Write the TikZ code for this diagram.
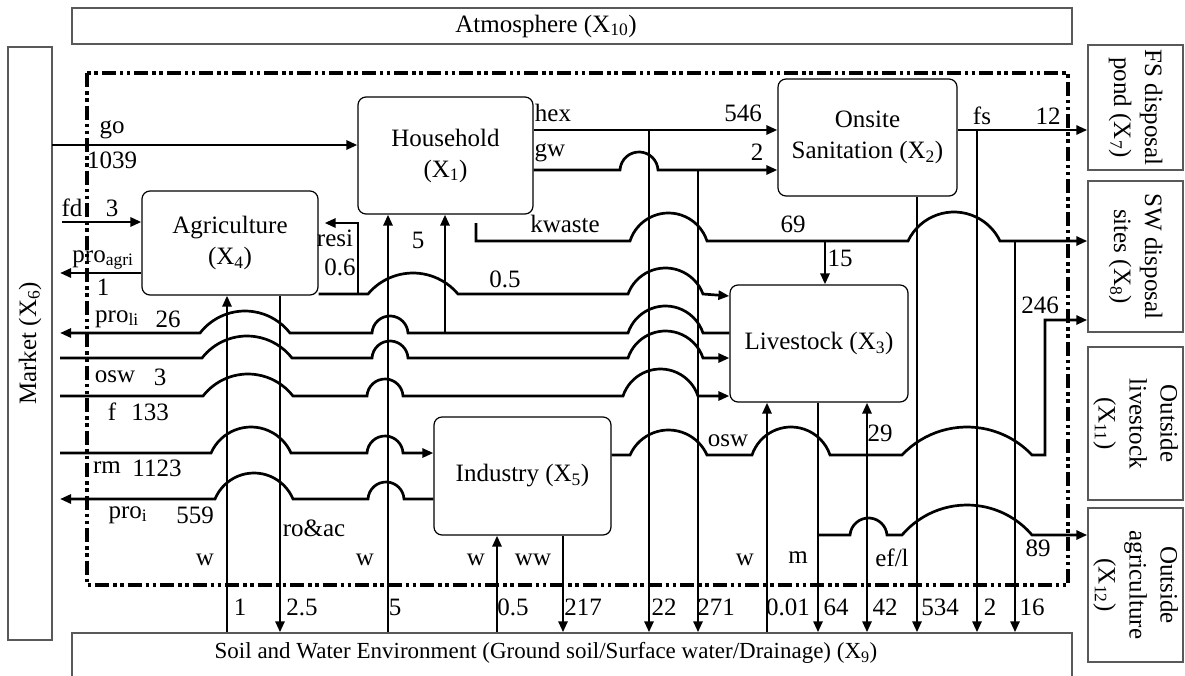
\documentclass[tikz,border=0pt]{standalone}
\usepackage{fontspec}
\setmainfont{Liberation Serif}
\usetikzlibrary{arrows.meta, positioning}

% jump over crossing lines: half chord #1, height #2 (drawn left to right)
\newcommand{\hopover}[2]{arc[start angle={90+asin(2*(#1)*(#2)/((#1)*(#1)+(#2)*(#2)))},
  end angle={90-asin(2*(#1)*(#2)/((#1)*(#1)+(#2)*(#2)))},
  radius={((#1)*(#1)+(#2)*(#2))/(2*(#2))*1pt}]}

\begin{document}
\begin{tikzpicture}[x=1pt, y=-1pt,
  every node/.style={font=\fontsize{25}{31}\selectfont},
  box/.style={rectangle, draw, rounded corners=8pt, line width=1.2pt, align=center},
  envbox/.style={rectangle, draw=black!65, line width=1.4pt, align=center, inner sep=1pt},
  flow/.style={line width=2.7pt},
  arrow/.style={flow, -{Triangle[length=11pt, width=9pt]}},
  backarrow/.style={flow, {Triangle[length=11pt, width=9pt]}-},
  system/.style={line width=3.2pt, dash pattern=on 14pt off 4pt on 3.5pt off 3.5pt on 3.5pt off 4pt},
  val/.style={inner sep=1pt}
]
\useasboundingbox (0,0) rectangle (1185,675);

% surroundings
\node[envbox, minimum width=1000pt, minimum height=36pt,
  label={[xshift=-26pt]center:Atmosphere (X\textsubscript{10})}] (atm) at (572,26) {};
\node[envbox, rotate=90, minimum width=593pt, minimum height=44pt] (market) at (30,343.5) {Market (X\textsubscript{6})};
\node[envbox, minimum width=1000pt, minimum height=46pt,
  label={[xshift=-26pt, yshift=3pt, font=\fontsize{23}{28}\selectfont]center:Soil and Water Environment (Ground soil/Surface water/Drainage) (X\textsubscript{9})}] (soil) at (572,656) {};
\node[envbox, rotate=-90, minimum width=125pt, minimum height=95pt] (fsp) at (1135.5,107.5) {FS disposal\\pond (X\textsubscript{7})};
\node[envbox, rotate=-90, minimum width=151pt, minimum height=95pt] (sw) at (1135.5,256.5) {SW disposal\\sites (X\textsubscript{8})};
\node[envbox, rotate=-90, minimum width=153pt, minimum height=95pt] (ol) at (1135.5,423.5) {Outside\\livestock\\(X\textsubscript{11})};
\node[envbox, rotate=-90, minimum width=154pt, minimum height=95pt] (oa) at (1135.5,585) {Outside\\agriculture\\(X\textsubscript{12})};

% system boundary
\draw[system] (87,73) rectangle (1068,585);

% sectors
\node[box, minimum width=175pt, minimum height=117pt] (hh)   at (445.5,155.5) {Household\\(X\textsubscript{1})};
\node[box, minimum width=179pt, minimum height=117pt] (ons)  at (867.5,137.5) {Onsite\\Sanitation (X\textsubscript{2})};
\node[box, minimum width=176pt, minimum height=104pt] (agri) at (230,243)     {Agriculture\\(X\textsubscript{4})};
\node[box, minimum width=178pt, minimum height=117pt] (live) at (819,343.5)   {Livestock (X\textsubscript{3})};
\node[box, minimum width=177pt, minimum height=118pt] (ind)  at (522.5,476)   {Industry (X\textsubscript{5})};

% market rows
\draw[arrow] (52,145) -- (hh.west |- 0,145);
\draw[arrow] (62,222) -- (agri.west |- 0,222);
\draw[backarrow] (60,273) -- (agri.west |- 0,273);
\draw[backarrow] (60,333) -- (200,333) \hopover{45}{22} -- (372,333) \hopover{18}{17} -- (628,333) \hopover{37.5}{27} -- (live.west |- 0,333);
\draw[arrow] (60,358) -- (202,358) \hopover{45}{22} -- (372,358) \hopover{18}{17} -- (628,358) \hopover{37.5}{27} -- (live.west |- 0,358);
\draw[arrow] (60,396) -- (203,396) \hopover{45}{22} -- (367,396) \hopover{18}{17} -- (623,396) \hopover{37.5}{27} -- (live.west |- 0,396);
\draw[arrow] (60,453) -- (211,453) \hopover{40}{26} -- (367,453) \hopover{18}{17} -- (ind.west |- 0,453);
\draw[backarrow] (60,499) -- (215,499) \hopover{39}{26} -- (368,499) \hopover{18}{17} -- (ind.west |- 0,499);
\draw[arrow] (445,333) -- (445,0 |- hh.south);

% agriculture outputs
\draw[arrow] (agri.east |- 0,294) -- (368,294) \hopover{45}{21} -- (628,294) \hopover{37.5}{26} -- (live.west |- 0,296);
\draw[arrow, shorten >=6pt] (358,294) -- (358,223) -- (agri.east |- 0,223);

% household outputs
\draw[arrow] (hh.east |- 0,130) -- (ons.west |- 0,130);
\draw[arrow] (hh.east |- 0,170) -- (620,170) \hopover{19}{18} -- (ons.west |- 0,170);
\draw[arrow] (476,223) -- (476,241) -- (630,241) \hopover{38.5}{28} -- (908,241) \hopover{46}{29} -- (sw.south |- 0,241);
\draw[arrow] (825,241) -- (825,0 |- live.north);
\draw[arrow] (ons.east |- 0,130) -- (fsp.south |- 0,130);

% industry and livestock outputs
\draw[arrow] (ind.east |- 0,455) -- (630,455) \hopover{38.5}{25} -- (752,455) \hopover{39}{28} -- (902,455) \hopover{65}{28} -- (1045,455) -- (1045,320) -- (sw.south |- 0,320);
\draw[arrow] (818,535) -- (850,535) \hopover{18.5}{17} -- (902,535) \hopover{65}{30} -- (oa.south |- 0,535);

% exchange with soil and water
\draw[arrow] (227,0 |- soil.north) -- (227,0 |- agri.south);
\draw[arrow] (280,0 |- agri.south) -- (280,0 |- soil.north);
\draw[arrow] (388,0 |- soil.north) -- (388,0 |- hh.south);
\draw[arrow] (497,0 |- soil.north) -- (497,0 |- ind.south);
\draw[arrow] (563,0 |- ind.south) -- (563,0 |- soil.north);
\draw[arrow] (649,130) -- (649,0 |- soil.north);
\draw[arrow] (698,170) -- (698,0 |- soil.north);
\draw[arrow] (767,0 |- soil.north) -- (767,0 |- live.south);
\draw[arrow] (818,0 |- live.south) -- (818,0 |- soil.north);
\draw[arrow] (867,455) -- (867,0 |- live.south);
\draw[arrow] (867,455) -- (867,0 |- soil.north);
\draw[arrow] (917,0 |- ons.south) -- (917,0 |- soil.north);
\draw[arrow] (977,130) -- (977,0 |- soil.north);
\draw[arrow] (1015,241) -- (1015,0 |- soil.north);

% flow names and values
\node[val] (l-go)    at (112,130) {go};
\node[val] (v-go)    at (112,160) {1039};
\node[val] (l-fd)    at (72,208)  {fd};
\node[val] (v-fd)    at (112,208) {3};
\node[val] (l-pagri) at (103,260) {pro\textsubscript{agri}};
\node[val] (v-pagri) at (103,287) {1};
\node[val] (l-pli)   at (117,319) {pro\textsubscript{li}};
\node[val] (v-pli)   at (168,319) {26};
\node[val] (l-osw1)  at (115,377) {osw};
\node[val] (v-osw1)  at (160,377) {3};
\node[val] (l-f)     at (112,412) {f};
\node[val] (v-f)     at (150,412) {133};
\node[val] (l-rm)    at (107,468) {rm};
\node[val] (v-rm)    at (157,468) {1123};
\node[val] (l-pi)    at (128,515) {pro\textsubscript{i}};
\node[val] (v-pi)    at (195,515) {559};
\node[val] (v-hhw)   at (418,240) {5};
\node[val] (l-resi)  at (335,238) {resi};
\node[val] (v-resi)  at (340,267) {0.6};
\node[val] (v-agli)  at (505,279) {0.5};
\node[val] (l-hex)   at (553,113) {hex};
\node[val] (v-hex)   at (743,113) {546};
\node[val] (l-gw)    at (550,153) {gw};
\node[val] (v-gw)    at (757,152) {2};
\node[val] (l-kw)    at (565,224) {kwaste};
\node[val] (v-kw)    at (793,224) {69};
\node[val] (v-kwli)  at (840,258) {15};
\node[val] (l-fs)    at (982,116) {fs};
\node[val] (v-fs)    at (1048,116) {12};
\node[val] (v-sw)    at (1040,305) {246};
\node[val] (v-oswli) at (880,433) {29};
\node[val] (l-osw2)  at (728,441) {osw};
\node[val] (v-oa)    at (1038,548) {89};
\node[val] (l-w1)    at (205,560) {w};
\node[val] (l-roac)  at (314,528) {ro\&ac};
\node[val] (l-w2)    at (365,560) {w};
\node[val] (l-w3)    at (476,560) {w};
\node[val] (l-ww)    at (533,560) {ww};
\node[val] (l-w4)    at (745,560) {w};
\node[val] (l-m)     at (798,558) {m};
\node[val] (l-efl)   at (892,558) {ef/l};
\node[val] (v-s1)    at (240,607) {1};
\node[val] (v-s2)    at (302,607) {2.5};
\node[val] (v-s3)    at (395,607) {5};
\node[val] (v-s4)    at (513,607) {0.5};
\node[val] (v-s5)    at (583,607) {217};
\node[val] (v-s6)    at (664,607) {22};
\node[val] (v-s7)    at (716,607) {271};
\node[val] (v-s8)    at (788,607) {0.01};
\node[val] (v-s9)    at (836,607) {64};
\node[val] (v-s10)   at (885,607) {42};
\node[val] (v-s11)   at (940,607) {534};
\node[val] (v-s12)   at (990,607) {2};
\node[val] (v-s13)   at (1032,607) {16};
\end{tikzpicture}
\end{document}
